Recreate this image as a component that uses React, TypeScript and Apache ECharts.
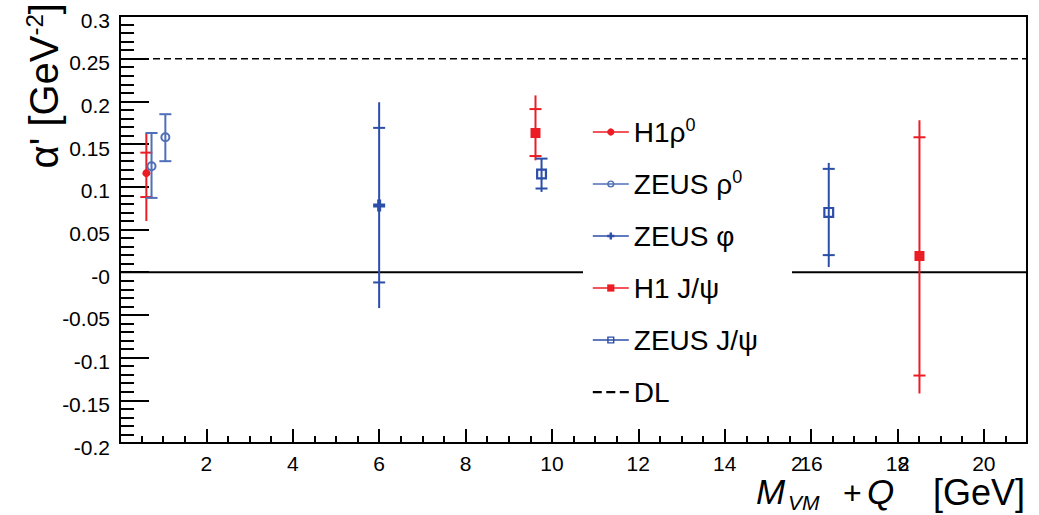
import React, { useEffect, useRef } from "react";
import * as echarts from "echarts";

const FONT = "'Liberation Sans', Arial, Helvetica, sans-serif";
const RED = "#ec1c24";
const BLUE = "#2b4ea8";
const BLUE_LIGHT = "#4f6fb8";

// Axis ranges and tick labels
const xMin = 0;
const xMax = 21;
const yMin = -0.2;
const yMax = 0.3;
const xTickLabels = ["2", "4", "6", "8", "10", "12", "14", "16", "18", "20"];
const yTickLabels = ["-0.2", "-0.15", "-0.1", "-0.05", "-0", "0.05", "0.1", "0.15", "0.2", "0.25", "0.3"];

// H1 rho0
const h1RhoX = [0.61];
const h1RhoY = [0.116];
const h1RhoTotLo = [0.06];
const h1RhoTotHi = [0.163];
const h1RhoStatLo = [0.088];
const h1RhoStatHi = [0.14];

// ZEUS rho0
const zeusRhoX = [0.73, 1.05];
const zeusRhoY = [0.124, 0.158];
const zeusRhoTotLo = [0.087, 0.13];
const zeusRhoTotHi = [0.163, 0.185];
const zeusRhoStatLo = [0.087, 0.13];
const zeusRhoStatHi = [0.163, 0.185];

// ZEUS phi
const zeusPhiX = [6.0];
const zeusPhiY = [0.078];
const zeusPhiTotLo = [-0.042];
const zeusPhiTotHi = [0.199];
const zeusPhiStatLo = [-0.012];
const zeusPhiStatHi = [0.169];

// H1 J/psi
const h1JpsiX = [9.62, 18.51];
const h1JpsiY = [0.163, 0.019];
const h1JpsiTotLo = [0.131, -0.142];
const h1JpsiTotHi = [0.207, 0.178];
const h1JpsiStatLo = [0.136, -0.121];
const h1JpsiStatHi = [0.191, 0.158];

// ZEUS J/psi
const zeusJpsiX = [9.76, 16.41];
const zeusJpsiY = [0.115, 0.07];
const zeusJpsiTotLo = [0.094, 0.006];
const zeusJpsiTotHi = [0.133, 0.128];
const zeusJpsiStatLo = [0.098, 0.02];
const zeusJpsiStatHi = [0.133, 0.121];

// DL prediction
const dlValue = 0.25;
const zeroValue = 0;

const SYM_DOT = "circle";
const SYM_OPEN_CIRCLE =
  "path://M5,0A5,5 0 1,1 5,10A5,5 0 1,1 5,0Z M5,2A3,3 0 1,0 5,8A3,3 0 1,0 5,2Z";
const SYM_PLUS = "path://M4,0H8V4H12V8H8V12H4V8H0V4H4Z";
const SYM_SQUARE = "rect";
const SYM_OPEN_SQUARE = "path://M0,0H10V10H0Z M2,2V8H8V2Z";
const ICON_DASH = "path://M0,0H8V2H0Z M12,0H20V2H12Z M24,0H32V2H24Z";

type DS = {
  name: string;
  label: string;
  color: string;
  symbol: string;
  size: number;
  x: number[];
  y: number[];
  totLo: number[];
  totHi: number[];
  statLo: number[];
  statHi: number[];
};

const datasets: DS[] = [
  { name: "H1 ρ0", label: "{t|H1ρ}{s|0}", color: RED, symbol: SYM_DOT, size: 8, x: h1RhoX, y: h1RhoY, totLo: h1RhoTotLo, totHi: h1RhoTotHi, statLo: h1RhoStatLo, statHi: h1RhoStatHi },
  { name: "ZEUS ρ0", label: "{t|ZEUS ρ}{s|0}", color: BLUE_LIGHT, symbol: SYM_OPEN_CIRCLE, size: 10, x: zeusRhoX, y: zeusRhoY, totLo: zeusRhoTotLo, totHi: zeusRhoTotHi, statLo: zeusRhoStatLo, statHi: zeusRhoStatHi },
  { name: "ZEUS φ", label: "{t|ZEUS φ}", color: BLUE, symbol: SYM_PLUS, size: 12, x: zeusPhiX, y: zeusPhiY, totLo: zeusPhiTotLo, totHi: zeusPhiTotHi, statLo: zeusPhiStatLo, statHi: zeusPhiStatHi },
  { name: "H1 J/ψ", label: "{t|H1 J/ψ}", color: RED, symbol: SYM_SQUARE, size: 10, x: h1JpsiX, y: h1JpsiY, totLo: h1JpsiTotLo, totHi: h1JpsiTotHi, statLo: h1JpsiStatLo, statHi: h1JpsiStatHi },
  { name: "ZEUS J/ψ", label: "{t|ZEUS J/ψ}", color: BLUE, symbol: SYM_OPEN_SQUARE, size: 11, x: zeusJpsiX, y: zeusJpsiY, totLo: zeusJpsiTotLo, totHi: zeusJpsiTotHi, statLo: zeusJpsiStatLo, statHi: zeusJpsiStatHi },
];

const legendLabels: Record<string, string> = {};
datasets.forEach((d) => (legendLabels[d.name] = d.label));
legendLabels["DL"] = "{t|DL}";

function buildOption() {
  const series: any[] = [];
  series.push({
    name: "zero",
    type: "line",
    data: [[xMin, zeroValue], [xMax, zeroValue]],
    symbol: "none",
    silent: true,
    lineStyle: { color: "#000", width: 2 },
    z: 1,
  });
  series.push({
    name: "DL",
    type: "line",
    data: [[xMin, dlValue], [xMax, dlValue]],
    symbol: "none",
    silent: true,
    itemStyle: { color: "#000" },
    lineStyle: { color: "#000", width: 1.6, type: [7, 4] },
    z: 1,
  });
  datasets.forEach((d) => {
    const rows = d.x.map((x, i) => [x, d.y[i], d.totLo[i], d.totHi[i], d.statLo[i], d.statHi[i]]);
    series.push({
      name: d.name + "-err",
      type: "custom",
      data: rows,
      encode: { x: 0, y: [1, 2, 3] },
      silent: true,
      z: 3,
      renderItem: (params: any, api: any) => {
        const x = api.value(0);
        const top = api.coord([x, api.value(3)]);
        const bot = api.coord([x, api.value(2)]);
        const s1 = api.coord([x, api.value(5)]);
        const s2 = api.coord([x, api.value(4)]);
        const w = 6;
        const style = { stroke: d.color, lineWidth: 2 };
        return {
          type: "group",
          children: [
            { type: "line", shape: { x1: top[0], y1: top[1], x2: bot[0], y2: bot[1] }, style },
            { type: "line", shape: { x1: s1[0] - w, y1: s1[1], x2: s1[0] + w, y2: s1[1] }, style },
            { type: "line", shape: { x1: s2[0] - w, y1: s2[1], x2: s2[0] + w, y2: s2[1] }, style },
          ],
        };
      },
    });
    series.push({
      name: d.name,
      type: "line",
      data: d.x.map((x, i) => [x, d.y[i]]),
      symbol: d.symbol,
      symbolSize: d.size,
      showSymbol: true,
      silent: true,
      itemStyle: { color: d.color },
      lineStyle: { color: d.color, width: 0, opacity: 0 },
      z: 4,
    });
  });

  const lineCol = { color: "#000", width: 2 };

  return {
    animation: false,
    backgroundColor: "#fff",
    grid: {
      left: 120,
      top: 16,
      width: 907,
      height: 427,
      show: true,
      borderColor: "#000",
      borderWidth: 2,
      backgroundColor: "transparent",
    },
    xAxis: [
      {
        type: "value",
        min: xMin,
        max: xMax,
        interval: 0.5,
        position: "bottom",
        axisLine: { show: true, onZero: false, lineStyle: lineCol },
        axisTick: { show: true, inside: true, length: 7, lineStyle: lineCol },
        splitLine: { show: false },
        axisLabel: {
          fontFamily: FONT,
          fontSize: 21,
          color: "#000",
          margin: 10,
          formatter: (v: number) => {
            const k = Math.round(v / 2) - 1;
            if (Math.abs(v / 2 - Math.round(v / 2)) > 1e-6) return "";
            return k >= 0 && k < xTickLabels.length ? xTickLabels[k] : "";
          },
        },
      },
      {
        type: "value",
        min: xMin,
        max: xMax,
        interval: 2,
        position: "bottom",
        axisLine: { show: false, onZero: false },
        axisTick: { show: true, inside: true, length: 14, lineStyle: lineCol },
        splitLine: { show: false },
        axisLabel: { show: false },
      },
    ],
    yAxis: {
      type: "value",
      min: yMin,
      max: yMax,
      interval: 0.05,
      axisLine: { show: true, onZero: false, lineStyle: lineCol },
      axisTick: { show: true, inside: true, length: 29, lineStyle: lineCol },
      minorTick: { show: true, splitNumber: 5, length: 14, lineStyle: lineCol },
      splitLine: { show: false },
      axisLabel: {
        fontFamily: FONT,
        fontSize: 21,
        color: "#000",
        margin: 10,
        verticalAlign: "top",
        lineHeight: 8,
        formatter: (v: number) => {
          const k = Math.round((v - yMin) / 0.05);
          return yTickLabels[k] ?? "";
        },
      },
    },
    legend: {
      orient: "vertical",
      left: 583,
      top: 108,
      backgroundColor: "#fff",
      padding: [8, 34, 8, 9],
      itemWidth: 36,
      itemHeight: 9,
      itemGap: 20,
      selectedMode: false,
      z: 10,
      lineStyle: { width: 1.6, opacity: 1 },
      formatter: (name: string) => legendLabels[name] ?? name,
      textStyle: {
        fontFamily: FONT,
        color: "#000",
        fontSize: 28,
        lineHeight: 32,
        rich: {
          t: { fontFamily: FONT, fontSize: 28, color: "#000", lineHeight: 32 },
          s: { fontFamily: FONT, fontSize: 18, color: "#000", lineHeight: 20, verticalAlign: "top" },
        },
      },
      data: [
        ...datasets.map((d) => ({ name: d.name })),
        { name: "DL", icon: ICON_DASH },
      ],
    },
    graphic: [
      {
        type: "text",
        x: 44,
        y: 3,
        rotation: Math.PI / 2,
        z: 20,
        style: {
          text: "{a|α' [GeV}{s|-2}{a|]}",
          align: "right",
          verticalAlign: "middle",
          fill: "#000",
          rich: {
            a: { fontFamily: FONT, fontSize: 40, fill: "#000", lineHeight: 44 },
            s: { fontFamily: FONT, fontSize: 24, fill: "#000", lineHeight: 28, verticalAlign: "top" },
          },
        },
      },
      {
        type: "group",
        z: 20,
        children: [
          { type: "text", x: 756, y: 491, style: { text: "M", font: `italic 35px ${FONT}`, fill: "#000", align: "left", verticalAlign: "middle" } },
          { type: "text", x: 791, y: 463, style: { text: "2", font: `21px ${FONT}`, fill: "#000", align: "left", verticalAlign: "middle" } },
          { type: "text", x: 788, y: 502, style: { text: "VM", font: `italic 21px ${FONT}`, fill: "#000", align: "left", verticalAlign: "middle" } },
          { type: "text", x: 843, y: 493, style: { text: "+", font: `32px ${FONT}`, fill: "#000", align: "left", verticalAlign: "middle" } },
          { type: "text", x: 867, y: 491, style: { text: "Q", font: `italic 35px ${FONT}`, fill: "#000", align: "left", verticalAlign: "middle" } },
          { type: "text", x: 898, y: 463, style: { text: "2", font: `21px ${FONT}`, fill: "#000", align: "left", verticalAlign: "middle" } },
          { type: "text", x: 1025, y: 492, style: { text: "[GeV]", font: `36px ${FONT}`, fill: "#000", align: "right", verticalAlign: "middle" } },
        ],
      },
    ],
    series,
  };
}

export default function App() {
  const ref = useRef<HTMLDivElement>(null);
  useEffect(() => {
    if (!ref.current) return;
    const chart = echarts.init(ref.current, undefined, { renderer: "svg" });
    chart.setOption(buildOption() as any);
    return () => chart.dispose();
  }, []);
  return (
    <div
      ref={ref}
      style={{ position: "absolute", left: 0, top: 0, width: 1039, height: 515, background: "#fff" }}
    />
  );
}
